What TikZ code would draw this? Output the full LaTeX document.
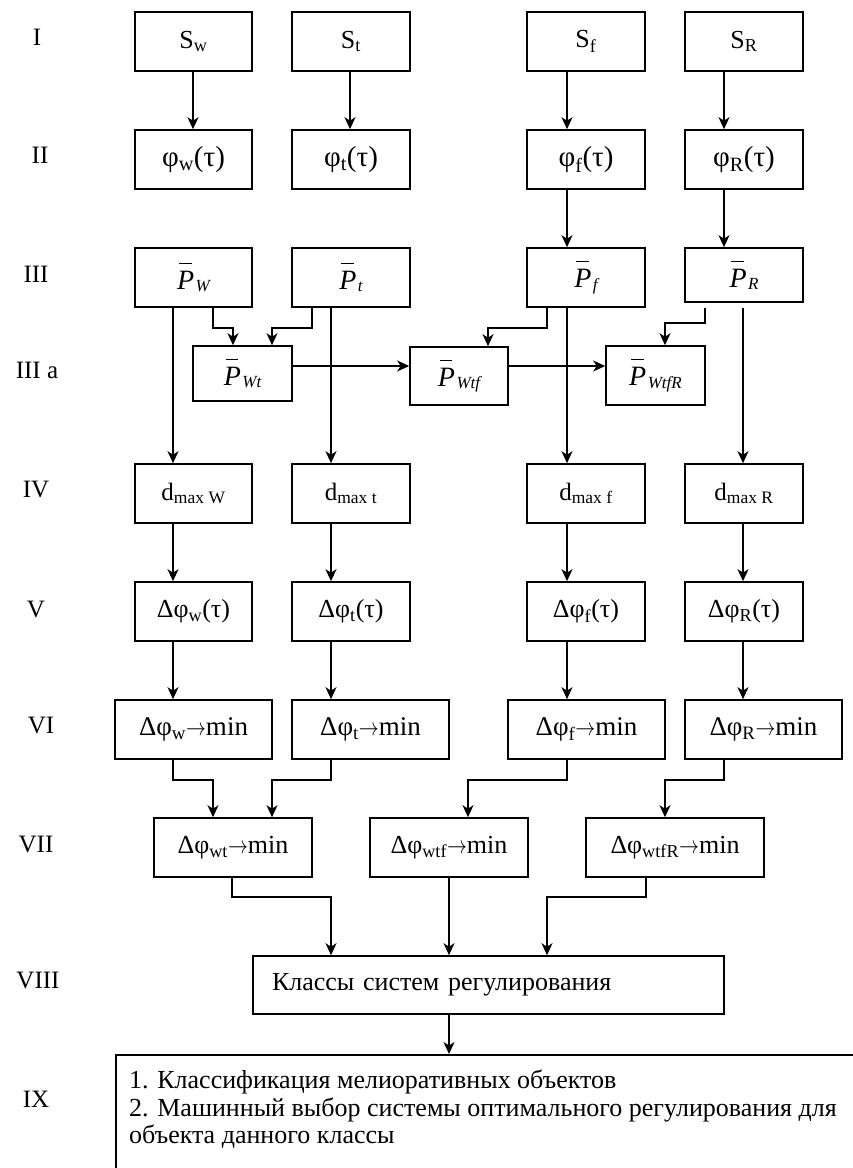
\documentclass[tikz,border=0pt]{standalone}
\usepackage{fontspec}
\usepackage{graphicx}
\setmainfont{Liberation Serif}
\usetikzlibrary{arrows.meta,calc}
\newcommand{\PB}[1]{\leavevmode{\fontsize{28}{30}\selectfont\rlap{\hspace{0.07em}\rule[0.9em]{0.45em}{1.3pt}}\textit{P}}\kern1.5pt\raisebox{-2.5pt}{\fontsize{17}{17}\selectfont\itshape #1}}
\newcommand{\ra}{\scalebox{0.8}[1]{$\rightarrow$}}
\begin{document}
\begin{tikzpicture}[x=1pt,y=-1pt,
  font=\fontsize{26}{27.5}\selectfont,
  bx/.style={draw, line width=1.6pt, inner sep=0pt, minimum width=118pt, minimum height=59pt},
  wbx/.style={bx, minimum width=157pt},
  f25/.style={font=\fontsize{25}{27}\selectfont},
  f27/.style={font=\fontsize{27}{29}\selectfont},
  f29/.style={font=\fontsize{29}{31}\selectfont},
  lbl/.style={anchor=base, inner sep=0pt, font=\fontsize{25}{27}\selectfont},
  arr/.style={line width=1.8pt, -{Stealth[length=12pt,width=11pt,inset=3.5pt]}},
  barr/.style={arr, line width=1.4pt},
]
\useasboundingbox (0,0) rectangle (853,1168);
\clip (0,0) rectangle (853,1168);

\foreach \v in {173,193,213,232,233,272,312,331,350,449,468,488,547,567,646,665,705,724,743}
  \coordinate (x\v) at (\v,0);
\coordinate (y366) at (0,366);

% level labels
\node[lbl] (r1) at (37,45) {I};
\node[lbl] (r2) at (40,163) {II};
\node[lbl] (r3) at (36,282) {III};
\node[lbl] (r3a) at (37,378) {III a};
\node[lbl] (r4) at (36,497) {IV};
\node[lbl] (r5) at (36,617) {V};
\node[lbl] (r6) at (41,733) {VI};
\node[lbl] (r7) at (36,852) {VII};
\node[lbl] (r8) at (38,988) {VIII};
\node[lbl] (r9) at (36,1107) {IX};

% row I
\node[bx, minimum width=117pt] (Sw) at (193.5,41.5) {S\textsubscript{w}};
\node[bx] (St) at (351,41.5) {S\textsubscript{t}};
\node[bx] (Sf) at (586,41.5) {S\textsubscript{f}};
\node[bx] (SR) at (744,41.5) {S\textsubscript{R}};
% row II
\node[bx, f29, minimum width=117pt] (phw) at (193.5,159.5) {φ\textsubscript{w}(τ)};
\node[bx, f29] (pht) at (351,159.5) {φ\textsubscript{t}(τ)};
\node[bx, f29] (phf) at (586,159.5) {φ\textsubscript{f}(τ)};
\node[bx, f29] (phR) at (744,159.5) {φ\textsubscript{R}(τ)};
% row III
\node[bx, minimum width=117pt] (Pw) at (193.5,277.5) {\PB{W}};
\node[bx] (Pt) at (351,277.5) {\PB{t}};
\node[bx] (Pf) at (586,277.5) {\PB{f}};
\node[bx, minimum height=54pt] (PR) at (744,275) {\PB{R}};
% row IIIa
\node[bx, minimum width=99pt, minimum height=55pt] (Pwt) at (242.5,373.5) {\PB{Wt}};
\node[bx, minimum width=98pt, minimum height=58pt] (Pwtf) at (459,376) {\PB{Wtf}};
\node[bx, minimum width=99pt] (PwtfR) at (655.5,375.5) {\PB{WtfR}};
% row IV
\node[bx, f25, minimum width=117pt] (dW) at (193.5,493.5) {d\textsubscript{max W}};
\node[bx, f25] (dt) at (351,493.5) {d\textsubscript{max t}};
\node[bx, f25] (df) at (586,493.5) {d\textsubscript{max f}};
\node[bx, f25] (dR) at (744,493.5) {d\textsubscript{max R}};
% row V
\node[bx, minimum width=117pt] (DW) at (193.5,611.5) {Δφ\textsubscript{w}(τ)};
\node[bx] (Dt) at (351,611.5) {Δφ\textsubscript{t}(τ)};
\node[bx] (Df) at (586,611.5) {Δφ\textsubscript{f}(τ)};
\node[bx] (DR) at (744,611.5) {Δφ\textsubscript{R}(τ)};
% row VI
\node[wbx, f27] (mW) at (193.5,729.5) {Δφ\textsubscript{w}\ra min};
\node[wbx, f27] (mt) at (370.5,729.5) {Δφ\textsubscript{t}\ra min};
\node[wbx, f27] (mf) at (586.5,729.5) {Δφ\textsubscript{f}\ra min};
\node[wbx, f27] (mR) at (763.5,729.5) {Δφ\textsubscript{R}\ra min};
% row VII
\node[bx, minimum width=158pt] (m1) at (233,847.5) {Δφ\textsubscript{wt}\ra min};
\node[bx, minimum width=158pt] (m2) at (449,847.5) {Δφ\textsubscript{wtf}\ra min};
\node[bx, minimum width=178pt] (m3) at (675,847.5) {Δφ\textsubscript{wtfR}\ra min};
% row VIII
\node[bx, minimum height=58pt, inner xsep=19pt, text width=433pt, align=left] (K) at (488.5,985)
  {Классы систем регулирования};
% row IX
\node[draw, line width=1.6pt, anchor=north west, minimum width=780pt, minimum height=200pt, inner sep=0pt] (IX) at (115,1054) {};
\node[anchor=north west, align=left, inner sep=0pt] (IXt) at (129,1070)
  {1. Классификация мелиоративных объектов\\
   2. Машинный выбор системы оптимального регулирования для\\
   объекта данного классы};

% connectors I -> II -> III
\draw[arr] (Sw.south -| x193) -- (phw.north -| x193);
\draw[arr] (St.south -| x350) -- (pht.north -| x350);
\draw[arr] (Sf.south -| x567) -- (phf.north -| x567);
\draw[arr] (SR.south -| x724) -- (phR.north -| x724);
\draw[arr] (phf.south -| x567) -- (Pf.north -| x567);
\draw[arr] (phR.south -| x724) -- (PR.north -| x724);
% III -> IV
\draw[arr] (Pw.south -| x173) -- (dW.north -| x173);
\draw[arr] (Pt.south -| x331) -- (dt.north -| x331);
\draw[arr] (Pf.south -| x567) -- (df.north -| x567);
\draw[arr] ($(PR.south -| x743)+(0,5)$) -- (dR.north -| x743);
% III -> IIIa
\draw[barr] (Pw.south -| x213) -- ++(0,20) -| (Pwt.north -| x233);
\draw[barr] (Pt.south -| x312) -- ++(0,20) -| (Pwt.north -| x272);
\draw[barr] (Pf.south -| x547) -- ++(0,20) -| (Pwtf.north -| x488);
\draw[barr] ($(PR.south -| x705)+(0,5)$) -- ++(0,15) -| (PwtfR.north -| x665);
\draw[arr] (Pwt.east |- y366) -- (Pwtf.west |- y366);
\draw[arr] (Pwtf.east |- y366) -- (PwtfR.west |- y366);
% IV -> V -> VI
\draw[arr] (dW.south -| x173) -- (DW.north -| x173);
\draw[arr] (dt.south -| x331) -- (Dt.north -| x331);
\draw[arr] (df.south -| x567) -- (Df.north -| x567);
\draw[arr] (dR.south -| x743) -- (DR.north -| x743);
\draw[arr] (DW.south -| x173) -- (mW.north -| x173);
\draw[arr] (Dt.south -| x331) -- (mt.north -| x331);
\draw[arr] (Df.south -| x567) -- (mf.north -| x567);
\draw[arr] (DR.south -| x743) -- (mR.north -| x743);
% VI -> VII
\draw[barr] (mW.south -| x173) -- ++(0,20) -| (m1.north -| x213);
\draw[barr] (mt.south -| x331) -- ++(0,20) -| (m1.north -| x272);
\draw[barr] (mf.south -| x567) -- ++(0,20) -| (m2.north -| x468);
\draw[barr] (mR.south -| x724) -- ++(0,20) -| (m3.north -| x665);
% VII -> VIII
\draw[barr] (m1.south -| x232) -- ++(0,19) -| (K.north -| x331);
\draw[arr] (m2.south -| x449) -- (K.north -| x449);
\draw[barr] (m3.south -| x646) -- ++(0,19) -| (K.north -| x547);
% VIII -> IX
\draw[barr] (K.south -| x449) -- (IX.north -| x449);
\end{tikzpicture}
\end{document}
